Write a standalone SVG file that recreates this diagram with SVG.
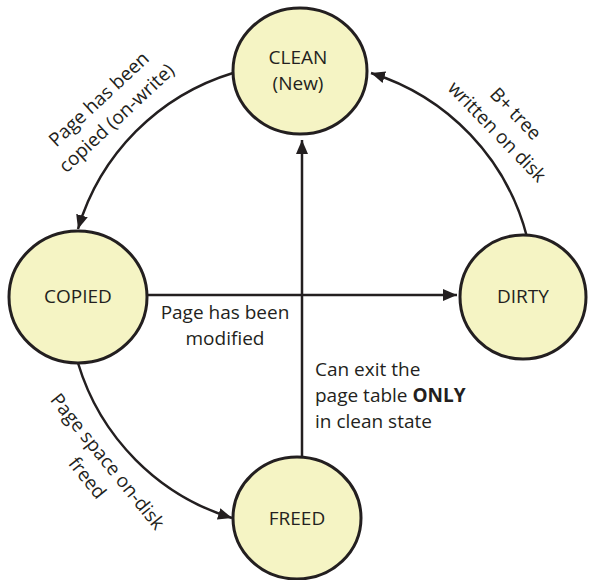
<svg xmlns="http://www.w3.org/2000/svg" width="593" height="580" viewBox="0 0 593 580">
<style>
.node ellipse{fill:#f5f4c4;stroke:#231f20;stroke-width:3}
text{font-family:"Open Sans","Noto Sans","Liberation Sans",sans-serif;font-size:19px;fill:#231f20}
.c{text-anchor:middle}
.edge{fill:none;stroke:#231f20;stroke-width:2.5}
</style>
<defs>
<marker id="arr" markerUnits="userSpaceOnUse" markerWidth="16" markerHeight="14" refX="14" refY="7" orient="auto">
<path d="M0,1 L14,7 L0,13 Z" fill="#231f20"/>
</marker>
</defs>
<rect width="593" height="580" fill="#fff"/>
<g id="connectors">
<path class="edge" d="M147,295 L457,295" marker-end="url(#arr)"/>
<path class="edge" d="M302,457 L302,140" marker-end="url(#arr)"/>
<path class="edge" d="M233,73 A232,232 0 0 0 78,229" marker-end="url(#arr)"/>
<path class="edge" d="M527,237 A232,232 0 0 0 371,73" marker-end="url(#arr)"/>
<path class="edge" d="M78,363 A232,232 0 0 0 232,518" marker-end="url(#arr)"/>
</g>
<g id="clean" class="node">
<ellipse cx="300" cy="71" rx="67" ry="63"/>
<text class="c" x="298" y="64">CLEAN</text>
<text class="c" x="298" y="90">(New)</text>
</g>
<g id="copied" class="node">
<ellipse cx="78" cy="297" rx="69" ry="66"/>
<text class="c" x="78" y="303">COPIED</text>
</g>
<g id="dirty" class="node">
<ellipse cx="523" cy="297" rx="63" ry="62"/>
<text class="c" x="523" y="303">DIRTY</text>
</g>
<g id="freed" class="node">
<ellipse cx="297" cy="518" rx="64" ry="61"/>
<text class="c" x="297" y="525">FREED</text>
</g>
<g id="labels">
<g transform="translate(108,109) rotate(-43)">
<text class="c" x="0" y="-7">Page has been</text>
<text class="c" x="0" y="19">copied (on-write)</text>
</g>
<g transform="translate(506,123) rotate(46)">
<text class="c" x="0" y="-7">B+ tree</text>
<text class="c" x="0" y="19">written on disk</text>
</g>
<g transform="translate(97,470) rotate(51)">
<text class="c" x="0" y="-7">Page space on-disk</text>
<text class="c" x="0" y="19">freed</text>
</g>
<text class="c" x="225" y="319">Page has been</text>
<text class="c" x="225" y="345">modified</text>
<text x="315" y="376">Can exit the</text>
<text x="315" y="402">page table <tspan font-weight="bold">ONLY</tspan></text>
<text x="315" y="428">in clean state</text>
</g>
</svg>
